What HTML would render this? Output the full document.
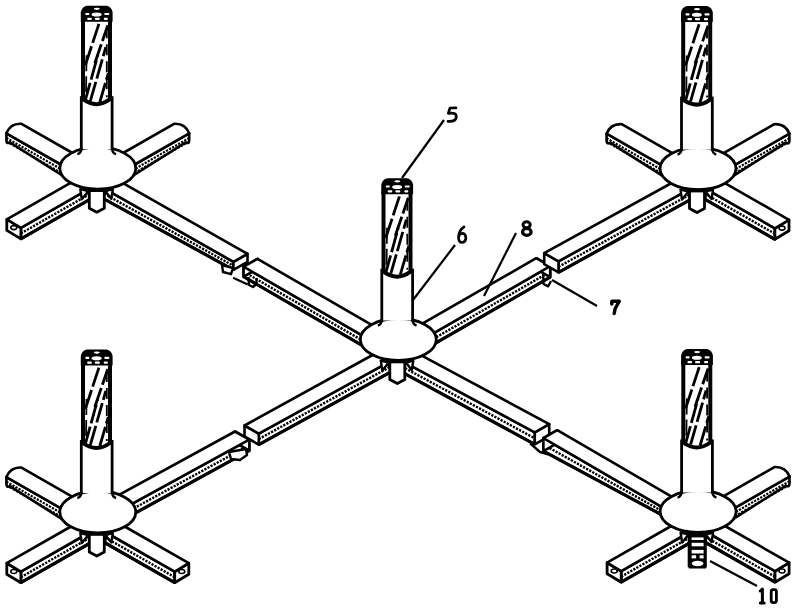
<!DOCTYPE html>
<html><head><meta charset="utf-8"><style>html,body{margin:0;padding:0;background:#fff;overflow:hidden;}svg{display:block;}</style></head>
<body><svg width="799" height="616" viewBox="0 0 799 616">
<polygon points="82.9,176.4 233.4,261.8 233.4,269.8 82.9,187.4" fill="#fff" stroke="#000" stroke-width="2.6" stroke-linejoin="round" />
<polyline points="82.9,181.9 233.4,265.8" fill="none" stroke="#000" stroke-width="2.4" stroke-linejoin="round" stroke-linecap="butt" stroke-dasharray="2.2,1.3"/>
<polyline points="82.9,187.4 233.4,269.8" fill="none" stroke="#000" stroke-width="3.2" stroke-linejoin="round" stroke-linecap="butt" />
<polygon points="247.5,253.8 233.4,261.8 233.4,269.8 247.5,261.8" fill="#fff" stroke="#000" stroke-width="2.6" stroke-linejoin="round" />
<polygon points="97.0,168.4 247.5,253.8 233.4,261.8 82.9,176.4" fill="#fff" stroke="#000" stroke-width="2.6" stroke-linejoin="round" />
<polygon points="243.6,266.7 384.1,348.1 384.1,358.1 243.6,276.7" fill="#fff" stroke="#000" stroke-width="2.6" stroke-linejoin="round" />
<polyline points="243.6,271.7 384.1,353.1" fill="none" stroke="#000" stroke-width="2.4" stroke-linejoin="round" stroke-linecap="butt" stroke-dasharray="2.2,1.3"/>
<polyline points="243.6,276.7 384.1,358.1" fill="none" stroke="#000" stroke-width="3.2" stroke-linejoin="round" stroke-linecap="butt" />
<polygon points="257.5,258.8 243.6,266.7 243.6,276.7 257.5,268.8" fill="#fff" stroke="#000" stroke-width="2.6" stroke-linejoin="round" />
<polygon points="257.5,258.8 398.0,340.2 384.1,348.1 243.6,266.7" fill="#fff" stroke="#000" stroke-width="2.6" stroke-linejoin="round" />
<polygon points="412.0,345.7 550.2,266.2 550.2,277.2 412.0,356.7" fill="#fff" stroke="#000" stroke-width="2.6" stroke-linejoin="round" />
<polyline points="412.0,351.2 550.2,271.7" fill="none" stroke="#000" stroke-width="2.4" stroke-linejoin="round" stroke-linecap="butt" stroke-dasharray="2.2,1.3"/>
<polyline points="412.0,356.7 550.2,277.2" fill="none" stroke="#000" stroke-width="3.2" stroke-linejoin="round" stroke-linecap="butt" />
<polygon points="536.2,258.2 550.2,266.2 550.2,277.2 536.2,269.2" fill="#fff" stroke="#000" stroke-width="2.6" stroke-linejoin="round" />
<polygon points="398.0,337.7 536.2,258.2 550.2,266.2 412.0,345.7" fill="#fff" stroke="#000" stroke-width="2.6" stroke-linejoin="round" />
<polygon points="558.5,261.3 712.3,176.7 712.3,187.7 558.5,272.3" fill="#fff" stroke="#000" stroke-width="2.6" stroke-linejoin="round" />
<polyline points="558.5,266.8 712.3,182.2" fill="none" stroke="#000" stroke-width="2.4" stroke-linejoin="round" stroke-linecap="butt" stroke-dasharray="2.2,1.3"/>
<polyline points="558.5,272.3 712.3,187.7" fill="none" stroke="#000" stroke-width="3.2" stroke-linejoin="round" stroke-linecap="butt" />
<polygon points="544.2,253.1 558.5,261.3 558.5,272.3 544.2,264.1" fill="#fff" stroke="#000" stroke-width="2.6" stroke-linejoin="round" />
<polygon points="544.2,253.1 698.0,168.5 712.3,176.7 558.5,261.3" fill="#fff" stroke="#000" stroke-width="2.6" stroke-linejoin="round" />
<polygon points="112.3,514.6 249.3,439.7 249.3,450.7 112.3,525.6" fill="#fff" stroke="#000" stroke-width="2.6" stroke-linejoin="round" />
<polyline points="112.3,520.1 249.3,445.2" fill="none" stroke="#000" stroke-width="2.4" stroke-linejoin="round" stroke-linecap="butt" stroke-dasharray="2.2,1.3"/>
<polyline points="112.3,525.6 249.3,450.7" fill="none" stroke="#000" stroke-width="3.2" stroke-linejoin="round" stroke-linecap="butt" />
<polygon points="235.0,431.5 249.3,439.7 249.3,450.7 235.0,442.5" fill="#fff" stroke="#000" stroke-width="2.6" stroke-linejoin="round" />
<polygon points="98.0,506.4 235.0,431.5 249.3,439.7 112.3,514.6" fill="#fff" stroke="#000" stroke-width="2.6" stroke-linejoin="round" />
<polygon points="258.8,433.6 412.3,349.1 412.3,360.1 258.8,444.6" fill="#fff" stroke="#000" stroke-width="2.6" stroke-linejoin="round" />
<polyline points="258.8,439.1 412.3,354.6" fill="none" stroke="#000" stroke-width="2.4" stroke-linejoin="round" stroke-linecap="butt" stroke-dasharray="2.2,1.3"/>
<polyline points="258.8,444.6 412.3,360.1" fill="none" stroke="#000" stroke-width="3.2" stroke-linejoin="round" stroke-linecap="butt" />
<polygon points="244.5,425.5 258.8,433.6 258.8,444.6 244.5,436.5" fill="#fff" stroke="#000" stroke-width="2.6" stroke-linejoin="round" />
<polygon points="244.5,425.5 398.0,341.0 412.3,349.1 258.8,433.6" fill="#fff" stroke="#000" stroke-width="2.6" stroke-linejoin="round" />
<polygon points="383.6,351.1 534.8,432.3 534.8,444.3 383.6,362.1" fill="#fff" stroke="#000" stroke-width="2.6" stroke-linejoin="round" />
<polyline points="383.6,356.6 534.8,438.3" fill="none" stroke="#000" stroke-width="2.4" stroke-linejoin="round" stroke-linecap="butt" stroke-dasharray="2.2,1.3"/>
<polyline points="383.6,362.1 534.8,444.3" fill="none" stroke="#000" stroke-width="3.2" stroke-linejoin="round" stroke-linecap="butt" />
<polygon points="549.2,424.1 534.8,432.3 534.8,444.3 549.2,436.1" fill="#fff" stroke="#000" stroke-width="2.6" stroke-linejoin="round" />
<polygon points="398.0,342.9 549.2,424.1 534.8,432.3 383.6,351.1" fill="#fff" stroke="#000" stroke-width="2.6" stroke-linejoin="round" />
<polygon points="543.4,438.1 684.1,519.9 684.1,526.9 543.4,451.1" fill="#fff" stroke="#000" stroke-width="2.6" stroke-linejoin="round" />
<polyline points="543.4,444.6 684.1,523.4" fill="none" stroke="#000" stroke-width="2.4" stroke-linejoin="round" stroke-linecap="butt" stroke-dasharray="2.2,1.3"/>
<polyline points="543.4,451.1 684.1,526.9" fill="none" stroke="#000" stroke-width="3.2" stroke-linejoin="round" stroke-linecap="butt" />
<polygon points="557.3,430.2 543.4,438.1 543.4,451.1 557.3,443.2" fill="#fff" stroke="#000" stroke-width="2.6" stroke-linejoin="round" />
<polygon points="557.3,430.2 698.0,512.0 684.1,519.9 543.4,438.1" fill="#fff" stroke="#000" stroke-width="2.6" stroke-linejoin="round" />
<polyline points="233.1,277.8 247.7,284.4" fill="none" stroke="#000" stroke-width="2.2" stroke-linejoin="round" stroke-linecap="butt" />
<polyline points="248.5,277.1 249.0,285.0 253.0,287.0 256.5,284.0 256.5,278.0" fill="none" stroke="#000" stroke-width="2.4" stroke-linejoin="round" stroke-linecap="butt" />
<polygon points="222.0,265.0 223.0,272.0 231.0,274.2 233.0,268.0" fill="#fff" stroke="#000" stroke-width="2.4" stroke-linejoin="round" />
<polyline points="543.2,274.3 543.5,284.0 548.2,286.3 551.0,281.0" fill="none" stroke="#000" stroke-width="2.4" stroke-linejoin="round" stroke-linecap="butt" />
<polygon points="229.0,452.0 231.0,459.0 240.0,460.0 247.0,455.0 246.0,449.0" fill="#fff" stroke="#000" stroke-width="2.4" stroke-linejoin="round" />
<polyline points="530.1,443.3 540.0,452.0 548.2,454.3" fill="none" stroke="#000" stroke-width="2.4" stroke-linejoin="round" stroke-linecap="butt" />
<path d="M6.4,133.3 L75.8,173.0 L75.8,184.0 L9.9,142.3 Q6.4,144.3 6.4,140.3 Z" fill="#fff" stroke="#000" stroke-width="2.6" stroke-linejoin="round"/>
<polyline points="6.4,137.9 75.8,177.6" fill="none" stroke="#000" stroke-width="2.2" stroke-linejoin="round" stroke-linecap="butt" stroke-dasharray="2.2,1.3"/>
<polyline points="6.4,141.5 75.8,181.2" fill="none" stroke="#000" stroke-width="2.0" stroke-linejoin="round" stroke-linecap="butt" stroke-dasharray="2.4,1.4"/>
<path d="M21.5,123.8 L90.9,163.5 L75.8,173.0 L6.4,133.3 Q10.5,123.1 21.5,123.8 Z" fill="#fff" stroke="#000" stroke-width="2.6" stroke-linejoin="round"/>
<path d="M189.2,133.3 L119.8,173.0 L119.8,184.0 L185.7,142.3 Q189.2,144.3 189.2,140.3 Z" fill="#fff" stroke="#000" stroke-width="2.6" stroke-linejoin="round"/>
<polyline points="189.2,137.9 119.8,177.6" fill="none" stroke="#000" stroke-width="2.2" stroke-linejoin="round" stroke-linecap="butt" stroke-dasharray="2.2,1.3"/>
<polyline points="189.2,141.5 119.8,181.2" fill="none" stroke="#000" stroke-width="2.0" stroke-linejoin="round" stroke-linecap="butt" stroke-dasharray="2.4,1.4"/>
<path d="M174.1,123.8 L104.7,163.5 L119.8,173.0 L189.2,133.3 Q185.1,123.1 174.1,123.8 Z" fill="#fff" stroke="#000" stroke-width="2.6" stroke-linejoin="round"/>
<polygon points="20.9,227.9 90.3,188.2 90.3,199.2 20.9,238.9" fill="#fff" stroke="#000" stroke-width="2.6" stroke-linejoin="round" />
<polyline points="20.9,233.4 90.3,193.7" fill="none" stroke="#000" stroke-width="2.4" stroke-linejoin="round" stroke-linecap="butt" stroke-dasharray="2.2,1.3"/>
<polyline points="20.9,238.9 90.3,199.2" fill="none" stroke="#000" stroke-width="3.2" stroke-linejoin="round" stroke-linecap="butt" />
<polygon points="6.8,219.4 20.9,227.9 20.9,238.9 6.8,230.4" fill="#fff" stroke="#000" stroke-width="2.8" stroke-linejoin="round" />
<ellipse cx="13.8" cy="227.6" rx="3" ry="2" fill="#fff" stroke="#000" stroke-width="1.6"/>
<polygon points="6.8,219.4 76.2,179.7 90.3,188.2 20.9,227.9" fill="#fff" stroke="#000" stroke-width="2.6" stroke-linejoin="round" />
<ellipse cx="97.8" cy="168.2" rx="38" ry="21" fill="#fff" stroke="#000" stroke-width="2.8"/>
<polygon points="80.3,189.2 81.8,199.2 88.3,191.2" fill="#fff" stroke="#000" stroke-width="2.4" stroke-linejoin="round"/>
<polygon points="112.8,189.2 111.3,198.7 105.3,191.2" fill="#fff" stroke="#000" stroke-width="2.4" stroke-linejoin="round"/>
<path d="M89.3,190.2 L89.3,208.2 L96.8,212.2 L104.3,208.2 L104.3,190.2" fill="#fff" stroke="#000" stroke-width="2.8" stroke-linejoin="round"/>
<line x1="85.8" y1="190.2" x2="107.8" y2="190.2" stroke="#000" stroke-width="3.6"/>
<rect x="81.3" y="96.19999999999999" width="30.799999999999997" height="53.0" fill="#fff"/>
<line x1="81.3" y1="96.19999999999999" x2="81.3" y2="150.2" stroke="#000" stroke-width="2.8"/>
<line x1="112.1" y1="96.19999999999999" x2="112.1" y2="150.2" stroke="#000" stroke-width="2.8"/>
<path d="M81.3,148.2 Q81.3,153.2 77.3,154.2" fill="none" stroke="#000" stroke-width="2.4"/>
<path d="M112.1,148.2 Q112.1,153.2 116.1,154.2" fill="none" stroke="#000" stroke-width="2.4"/>
<path d="M83.0,17.19999999999999 L83.0,99.19999999999999 Q96.5,109.19999999999999 110.0,99.19999999999999 L110.0,17.19999999999999" fill="#fff" stroke="#000" stroke-width="4"/>
<line x1="84.8" y1="102.19999999999999" x2="97.8" y2="55.19999999999999" stroke="#000" stroke-width="2.8" stroke-dasharray="20,3.5"/>
<line x1="90.3" y1="101.19999999999999" x2="105.8" y2="47.19999999999999" stroke="#000" stroke-width="2.8" stroke-dasharray="20,3.5"/>
<line x1="85.3" y1="65.19999999999999" x2="99.8" y2="21.19999999999999" stroke="#000" stroke-width="2.8" stroke-dasharray="20,3.5"/>
<line x1="94.8" y1="63.19999999999999" x2="107.8" y2="25.19999999999999" stroke="#000" stroke-width="2.8" stroke-dasharray="20,3.5"/>
<line x1="99.8" y1="102.19999999999999" x2="108.3" y2="73.19999999999999" stroke="#000" stroke-width="2.8" stroke-dasharray="20,3.5"/>
<line x1="86.5" y1="55.19999999999999" x2="86.0" y2="97.19999999999999" stroke="#000" stroke-width="1.8" stroke-dasharray="16,5"/>
<line x1="106.8" y1="27.19999999999999" x2="106.8" y2="97.19999999999999" stroke="#000" stroke-width="1.8" stroke-dasharray="11,6"/>
<path d="M80.8,21.69999999999999 L80.8,12.199999999999989 Q81.8,6.699999999999989 86.8,5.699999999999989 L106.6,5.699999999999989 Q111.6,6.699999999999989 112.6,12.199999999999989 L112.6,21.69999999999999 Z" fill="#000"/>
<ellipse cx="96.6" cy="14.399999999999988" rx="5" ry="2" fill="#fff"/>
<ellipse cx="96.8" cy="8.799999999999988" rx="3" ry="1.1" fill="#fff"/>
<rect x="85.3" y="12.89999999999999" width="4.0" height="2.2" rx="0.8" fill="#fff"/>
<rect x="104.3" y="12.89999999999999" width="5.0" height="2.2" rx="0.8" fill="#fff"/>
<rect x="87.2" y="17.69999999999999" width="4.6" height="2.2" rx="0.8" fill="#fff"/>
<rect x="94.8" y="17.69999999999999" width="5" height="2.2" rx="0.8" fill="#fff"/>
<rect x="103.8" y="17.69999999999999" width="4" height="2.2" rx="0.8" fill="#fff"/>
<path d="M606.6,133.7 L676.0,173.4 L676.0,184.4 L610.1,142.7 Q606.6,144.7 606.6,140.7 Z" fill="#fff" stroke="#000" stroke-width="2.6" stroke-linejoin="round"/>
<polyline points="606.6,138.3 676.0,178.0" fill="none" stroke="#000" stroke-width="2.2" stroke-linejoin="round" stroke-linecap="butt" stroke-dasharray="2.2,1.3"/>
<polyline points="606.6,141.9 676.0,181.6" fill="none" stroke="#000" stroke-width="2.0" stroke-linejoin="round" stroke-linecap="butt" stroke-dasharray="2.4,1.4"/>
<path d="M621.7,124.2 L691.1,163.9 L676.0,173.4 L606.6,133.7 Q610.7,123.5 621.7,124.2 Z" fill="#fff" stroke="#000" stroke-width="2.6" stroke-linejoin="round"/>
<path d="M789.4,133.7 L720.0,173.4 L720.0,184.4 L785.9,142.7 Q789.4,144.7 789.4,140.7 Z" fill="#fff" stroke="#000" stroke-width="2.6" stroke-linejoin="round"/>
<polyline points="789.4,138.3 720.0,178.0" fill="none" stroke="#000" stroke-width="2.2" stroke-linejoin="round" stroke-linecap="butt" stroke-dasharray="2.2,1.3"/>
<polyline points="789.4,141.9 720.0,181.6" fill="none" stroke="#000" stroke-width="2.0" stroke-linejoin="round" stroke-linecap="butt" stroke-dasharray="2.4,1.4"/>
<path d="M774.3,124.2 L704.9,163.9 L720.0,173.4 L789.4,133.7 Q785.3,123.5 774.3,124.2 Z" fill="#fff" stroke="#000" stroke-width="2.6" stroke-linejoin="round"/>
<polygon points="774.9,228.3 705.5,188.6 705.5,199.6 774.9,239.3" fill="#fff" stroke="#000" stroke-width="2.6" stroke-linejoin="round" />
<polyline points="774.9,233.8 705.5,194.1" fill="none" stroke="#000" stroke-width="2.4" stroke-linejoin="round" stroke-linecap="butt" stroke-dasharray="2.2,1.3"/>
<polyline points="774.9,239.3 705.5,199.6" fill="none" stroke="#000" stroke-width="3.2" stroke-linejoin="round" stroke-linecap="butt" />
<polygon points="789.0,219.8 774.9,228.3 774.9,239.3 789.0,230.8" fill="#fff" stroke="#000" stroke-width="2.8" stroke-linejoin="round" />
<ellipse cx="782.0" cy="228.1" rx="3" ry="2" fill="#fff" stroke="#000" stroke-width="1.6"/>
<polygon points="789.0,219.8 719.6,180.1 705.5,188.6 774.9,228.3" fill="#fff" stroke="#000" stroke-width="2.6" stroke-linejoin="round" />
<ellipse cx="698" cy="168.6" rx="38" ry="21" fill="#fff" stroke="#000" stroke-width="2.8"/>
<polygon points="680.5,189.6 682,199.6 688.5,191.6" fill="#fff" stroke="#000" stroke-width="2.4" stroke-linejoin="round"/>
<polygon points="713,189.6 711.5,199.1 705.5,191.6" fill="#fff" stroke="#000" stroke-width="2.4" stroke-linejoin="round"/>
<path d="M689.5,190.6 L689.5,208.6 L697,212.6 L704.5,208.6 L704.5,190.6" fill="#fff" stroke="#000" stroke-width="2.8" stroke-linejoin="round"/>
<line x1="686" y1="190.6" x2="708" y2="190.6" stroke="#000" stroke-width="3.6"/>
<rect x="681.5" y="96.6" width="30.799999999999955" height="53.0" fill="#fff"/>
<line x1="681.5" y1="96.6" x2="681.5" y2="150.6" stroke="#000" stroke-width="2.8"/>
<line x1="712.3" y1="96.6" x2="712.3" y2="150.6" stroke="#000" stroke-width="2.8"/>
<path d="M681.5,148.6 Q681.5,153.6 677.5,154.6" fill="none" stroke="#000" stroke-width="2.4"/>
<path d="M712.3,148.6 Q712.3,153.6 716.3,154.6" fill="none" stroke="#000" stroke-width="2.4"/>
<path d="M683.2,17.599999999999994 L683.2,99.6 Q696.7,109.6 710.2,99.6 L710.2,17.599999999999994" fill="#fff" stroke="#000" stroke-width="4"/>
<line x1="685" y1="102.6" x2="698" y2="55.599999999999994" stroke="#000" stroke-width="2.8" stroke-dasharray="20,3.5"/>
<line x1="690.5" y1="101.6" x2="706" y2="47.599999999999994" stroke="#000" stroke-width="2.8" stroke-dasharray="20,3.5"/>
<line x1="685.5" y1="65.6" x2="700" y2="21.599999999999994" stroke="#000" stroke-width="2.8" stroke-dasharray="20,3.5"/>
<line x1="695" y1="63.599999999999994" x2="708" y2="25.599999999999994" stroke="#000" stroke-width="2.8" stroke-dasharray="20,3.5"/>
<line x1="700" y1="102.6" x2="708.5" y2="73.6" stroke="#000" stroke-width="2.8" stroke-dasharray="20,3.5"/>
<line x1="686.7" y1="55.599999999999994" x2="686.2" y2="97.6" stroke="#000" stroke-width="1.8" stroke-dasharray="16,5"/>
<line x1="707" y1="27.599999999999994" x2="707" y2="97.6" stroke="#000" stroke-width="1.8" stroke-dasharray="11,6"/>
<path d="M681,22.099999999999994 L681,12.599999999999994 Q682,7.099999999999994 687,6.099999999999994 L706.8,6.099999999999994 Q711.8,7.099999999999994 712.8,12.599999999999994 L712.8,22.099999999999994 Z" fill="#000"/>
<ellipse cx="696.8" cy="14.799999999999994" rx="5" ry="2" fill="#fff"/>
<ellipse cx="697" cy="9.199999999999994" rx="3" ry="1.1" fill="#fff"/>
<rect x="685.5" y="13.299999999999995" width="4.0" height="2.2" rx="0.8" fill="#fff"/>
<rect x="704.5" y="13.299999999999995" width="5.0" height="2.2" rx="0.8" fill="#fff"/>
<rect x="687.4" y="18.099999999999994" width="4.6" height="2.2" rx="0.8" fill="#fff"/>
<rect x="695" y="18.099999999999994" width="5" height="2.2" rx="0.8" fill="#fff"/>
<rect x="704" y="18.099999999999994" width="4" height="2.2" rx="0.8" fill="#fff"/>
<ellipse cx="398.3" cy="339.5" rx="38" ry="21" fill="#fff" stroke="#000" stroke-width="2.8"/>
<polygon points="380.8,360.5 382.3,370.5 388.8,362.5" fill="#fff" stroke="#000" stroke-width="2.4" stroke-linejoin="round"/>
<polygon points="413.3,360.5 411.8,370.0 405.8,362.5" fill="#fff" stroke="#000" stroke-width="2.4" stroke-linejoin="round"/>
<path d="M389.8,361.5 L389.8,379.5 L397.3,383.5 L404.8,379.5 L404.8,361.5" fill="#fff" stroke="#000" stroke-width="2.8" stroke-linejoin="round"/>
<line x1="386.3" y1="361.5" x2="408.3" y2="361.5" stroke="#000" stroke-width="3.6"/>
<rect x="381.8" y="268.7" width="30.80000000000001" height="51.80000000000001" fill="#fff"/>
<line x1="381.8" y1="268.7" x2="381.8" y2="321.5" stroke="#000" stroke-width="2.8"/>
<line x1="412.6" y1="268.7" x2="412.6" y2="321.5" stroke="#000" stroke-width="2.8"/>
<path d="M381.8,319.5 Q381.8,324.5 377.8,325.5" fill="none" stroke="#000" stroke-width="2.4"/>
<path d="M412.6,319.5 Q412.6,324.5 416.6,325.5" fill="none" stroke="#000" stroke-width="2.4"/>
<path d="M383.5,189.7 L383.5,271.7 Q397.0,281.7 410.5,271.7 L410.5,189.7" fill="#fff" stroke="#000" stroke-width="4"/>
<line x1="385.3" y1="274.7" x2="398.3" y2="227.7" stroke="#000" stroke-width="2.8" stroke-dasharray="20,3.5"/>
<line x1="390.8" y1="273.7" x2="406.3" y2="219.7" stroke="#000" stroke-width="2.8" stroke-dasharray="20,3.5"/>
<line x1="385.8" y1="237.7" x2="400.3" y2="193.7" stroke="#000" stroke-width="2.8" stroke-dasharray="20,3.5"/>
<line x1="395.3" y1="235.7" x2="408.3" y2="197.7" stroke="#000" stroke-width="2.8" stroke-dasharray="20,3.5"/>
<line x1="400.3" y1="274.7" x2="408.8" y2="245.7" stroke="#000" stroke-width="2.8" stroke-dasharray="20,3.5"/>
<line x1="387.0" y1="227.7" x2="386.5" y2="269.7" stroke="#000" stroke-width="1.8" stroke-dasharray="16,5"/>
<line x1="407.3" y1="199.7" x2="407.3" y2="269.7" stroke="#000" stroke-width="1.8" stroke-dasharray="11,6"/>
<path d="M381.3,194.2 L381.3,184.7 Q382.3,179.2 387.3,178.2 L407.1,178.2 Q412.1,179.2 413.1,184.7 L413.1,194.2 Z" fill="#000"/>
<ellipse cx="397.1" cy="186.89999999999998" rx="5" ry="2" fill="#fff"/>
<ellipse cx="397.3" cy="181.29999999999998" rx="3" ry="1.1" fill="#fff"/>
<rect x="385.8" y="185.4" width="4.0" height="2.2" rx="0.8" fill="#fff"/>
<rect x="404.8" y="185.4" width="5.0" height="2.2" rx="0.8" fill="#fff"/>
<rect x="387.7" y="190.2" width="4.6" height="2.2" rx="0.8" fill="#fff"/>
<rect x="395.3" y="190.2" width="5" height="2.2" rx="0.8" fill="#fff"/>
<rect x="404.3" y="190.2" width="4" height="2.2" rx="0.8" fill="#fff"/>
<path d="M6.4,477.1 L75.8,516.8 L75.8,527.8 L9.9,486.1 Q6.4,488.1 6.4,484.1 Z" fill="#fff" stroke="#000" stroke-width="2.6" stroke-linejoin="round"/>
<polyline points="6.4,481.7 75.8,521.4" fill="none" stroke="#000" stroke-width="2.2" stroke-linejoin="round" stroke-linecap="butt" stroke-dasharray="2.2,1.3"/>
<polyline points="6.4,485.4 75.8,525.0" fill="none" stroke="#000" stroke-width="2.0" stroke-linejoin="round" stroke-linecap="butt" stroke-dasharray="2.4,1.4"/>
<path d="M21.5,467.6 L90.9,507.3 L75.8,516.8 L6.4,477.1 Q10.5,466.9 21.5,467.6 Z" fill="#fff" stroke="#000" stroke-width="2.6" stroke-linejoin="round"/>
<polygon points="20.9,571.7 90.3,532.0 90.3,543.0 20.9,582.7" fill="#fff" stroke="#000" stroke-width="2.6" stroke-linejoin="round" />
<polyline points="20.9,577.2 90.3,537.5" fill="none" stroke="#000" stroke-width="2.4" stroke-linejoin="round" stroke-linecap="butt" stroke-dasharray="2.2,1.3"/>
<polyline points="20.9,582.7 90.3,543.0" fill="none" stroke="#000" stroke-width="3.2" stroke-linejoin="round" stroke-linecap="butt" />
<polygon points="6.8,563.2 20.9,571.7 20.9,582.7 6.8,574.2" fill="#fff" stroke="#000" stroke-width="2.8" stroke-linejoin="round" />
<ellipse cx="13.8" cy="571.5" rx="3" ry="2" fill="#fff" stroke="#000" stroke-width="1.6"/>
<polygon points="6.8,563.2 76.2,523.5 90.3,532.0 20.9,571.7" fill="#fff" stroke="#000" stroke-width="2.6" stroke-linejoin="round" />
<polygon points="174.7,571.7 105.3,532.0 105.3,543.0 174.7,582.7" fill="#fff" stroke="#000" stroke-width="2.6" stroke-linejoin="round" />
<polyline points="174.7,577.2 105.3,537.5" fill="none" stroke="#000" stroke-width="2.4" stroke-linejoin="round" stroke-linecap="butt" stroke-dasharray="2.2,1.3"/>
<polyline points="174.7,582.7 105.3,543.0" fill="none" stroke="#000" stroke-width="3.2" stroke-linejoin="round" stroke-linecap="butt" />
<polygon points="188.8,563.2 174.7,571.7 174.7,582.7 188.8,574.2" fill="#fff" stroke="#000" stroke-width="2.8" stroke-linejoin="round" />
<ellipse cx="181.8" cy="571.5" rx="3" ry="2" fill="#fff" stroke="#000" stroke-width="1.6"/>
<polygon points="188.8,563.2 119.4,523.5 105.3,532.0 174.7,571.7" fill="#fff" stroke="#000" stroke-width="2.6" stroke-linejoin="round" />
<ellipse cx="97.8" cy="512" rx="38" ry="21" fill="#fff" stroke="#000" stroke-width="2.8"/>
<polygon points="80.3,533 81.8,543 88.3,535" fill="#fff" stroke="#000" stroke-width="2.4" stroke-linejoin="round"/>
<polygon points="112.8,533 111.3,542.5 105.3,535" fill="#fff" stroke="#000" stroke-width="2.4" stroke-linejoin="round"/>
<path d="M89.3,534 L89.3,552 L96.8,556 L104.3,552 L104.3,534" fill="#fff" stroke="#000" stroke-width="2.8" stroke-linejoin="round"/>
<line x1="85.8" y1="534" x2="107.8" y2="534" stroke="#000" stroke-width="3.6"/>
<rect x="81.3" y="440" width="30.799999999999997" height="53" fill="#fff"/>
<line x1="81.3" y1="440" x2="81.3" y2="494" stroke="#000" stroke-width="2.8"/>
<line x1="112.1" y1="440" x2="112.1" y2="494" stroke="#000" stroke-width="2.8"/>
<path d="M81.3,492 Q81.3,497 77.3,498" fill="none" stroke="#000" stroke-width="2.4"/>
<path d="M112.1,492 Q112.1,497 116.1,498" fill="none" stroke="#000" stroke-width="2.4"/>
<path d="M83.0,361 L83.0,443 Q96.5,453 110.0,443 L110.0,361" fill="#fff" stroke="#000" stroke-width="4"/>
<line x1="84.8" y1="446" x2="97.8" y2="399" stroke="#000" stroke-width="2.8" stroke-dasharray="20,3.5"/>
<line x1="90.3" y1="445" x2="105.8" y2="391" stroke="#000" stroke-width="2.8" stroke-dasharray="20,3.5"/>
<line x1="85.3" y1="409" x2="99.8" y2="365" stroke="#000" stroke-width="2.8" stroke-dasharray="20,3.5"/>
<line x1="94.8" y1="407" x2="107.8" y2="369" stroke="#000" stroke-width="2.8" stroke-dasharray="20,3.5"/>
<line x1="99.8" y1="446" x2="108.3" y2="417" stroke="#000" stroke-width="2.8" stroke-dasharray="20,3.5"/>
<line x1="86.5" y1="399" x2="86.0" y2="441" stroke="#000" stroke-width="1.8" stroke-dasharray="16,5"/>
<line x1="106.8" y1="371" x2="106.8" y2="441" stroke="#000" stroke-width="1.8" stroke-dasharray="11,6"/>
<path d="M80.8,365.5 L80.8,356 Q81.8,350.5 86.8,349.5 L106.6,349.5 Q111.6,350.5 112.6,356 L112.6,365.5 Z" fill="#000"/>
<ellipse cx="96.6" cy="358.2" rx="5" ry="2" fill="#fff"/>
<ellipse cx="96.8" cy="352.6" rx="3" ry="1.1" fill="#fff"/>
<rect x="85.3" y="356.7" width="4.0" height="2.2" rx="0.8" fill="#fff"/>
<rect x="104.3" y="356.7" width="5.0" height="2.2" rx="0.8" fill="#fff"/>
<rect x="87.2" y="361.5" width="4.6" height="2.2" rx="0.8" fill="#fff"/>
<rect x="94.8" y="361.5" width="5" height="2.2" rx="0.8" fill="#fff"/>
<rect x="103.8" y="361.5" width="4" height="2.2" rx="0.8" fill="#fff"/>
<path d="M789.5,476.6 L720.1,516.3 L720.1,527.3 L786.0,485.6 Q789.5,487.6 789.5,483.6 Z" fill="#fff" stroke="#000" stroke-width="2.6" stroke-linejoin="round"/>
<polyline points="789.5,481.2 720.1,520.9" fill="none" stroke="#000" stroke-width="2.2" stroke-linejoin="round" stroke-linecap="butt" stroke-dasharray="2.2,1.3"/>
<polyline points="789.5,484.9 720.1,524.5" fill="none" stroke="#000" stroke-width="2.0" stroke-linejoin="round" stroke-linecap="butt" stroke-dasharray="2.4,1.4"/>
<path d="M774.4,467.1 L705.0,506.8 L720.1,516.3 L789.5,476.6 Q785.4,466.4 774.4,467.1 Z" fill="#fff" stroke="#000" stroke-width="2.6" stroke-linejoin="round"/>
<polygon points="621.2,571.2 690.6,531.5 690.6,542.5 621.2,582.2" fill="#fff" stroke="#000" stroke-width="2.6" stroke-linejoin="round" />
<polyline points="621.2,576.7 690.6,537.0" fill="none" stroke="#000" stroke-width="2.4" stroke-linejoin="round" stroke-linecap="butt" stroke-dasharray="2.2,1.3"/>
<polyline points="621.2,582.2 690.6,542.5" fill="none" stroke="#000" stroke-width="3.2" stroke-linejoin="round" stroke-linecap="butt" />
<polygon points="607.1,562.7 621.2,571.2 621.2,582.2 607.1,573.7" fill="#fff" stroke="#000" stroke-width="2.8" stroke-linejoin="round" />
<ellipse cx="614.2" cy="571.0" rx="3" ry="2" fill="#fff" stroke="#000" stroke-width="1.6"/>
<polygon points="607.1,562.7 676.5,523.0 690.6,531.5 621.2,571.2" fill="#fff" stroke="#000" stroke-width="2.6" stroke-linejoin="round" />
<polygon points="775.0,571.2 705.6,531.5 705.6,542.5 775.0,582.2" fill="#fff" stroke="#000" stroke-width="2.6" stroke-linejoin="round" />
<polyline points="775.0,576.7 705.6,537.0" fill="none" stroke="#000" stroke-width="2.4" stroke-linejoin="round" stroke-linecap="butt" stroke-dasharray="2.2,1.3"/>
<polyline points="775.0,582.2 705.6,542.5" fill="none" stroke="#000" stroke-width="3.2" stroke-linejoin="round" stroke-linecap="butt" />
<polygon points="789.1,562.7 775.0,571.2 775.0,582.2 789.1,573.7" fill="#fff" stroke="#000" stroke-width="2.8" stroke-linejoin="round" />
<ellipse cx="782.0" cy="571.0" rx="3" ry="2" fill="#fff" stroke="#000" stroke-width="1.6"/>
<polygon points="789.1,562.7 719.7,523.0 705.6,531.5 775.0,571.2" fill="#fff" stroke="#000" stroke-width="2.6" stroke-linejoin="round" />
<ellipse cx="698.1" cy="511.5" rx="38" ry="21" fill="#fff" stroke="#000" stroke-width="2.8"/>
<polygon points="680.6,532.5 682.1,542.5 688.6,534.5" fill="#fff" stroke="#000" stroke-width="2.4" stroke-linejoin="round"/>
<polygon points="713.1,532.5 711.6,542.0 705.6,534.5" fill="#fff" stroke="#000" stroke-width="2.4" stroke-linejoin="round"/>
<path d="M689.1,533.5 L689.1,565.5 L705.1,565.5 L705.1,533.5" fill="#fff" stroke="#000" stroke-width="2.8"/>
<line x1="686.1" y1="533.5" x2="708.1" y2="533.5" stroke="#000" stroke-width="3.6"/>
<rect x="688.3000000000001" y="531.5" width="18.299999999999955" height="37" rx="1.5" fill="#000"/>
<rect x="691.6" y="537.4" width="12.0" height="2.6000000000000014" fill="#fff"/>
<rect x="691.6" y="542.8" width="12.0" height="3.4999999999999964" fill="#fff"/>
<rect x="691.6" y="549.9" width="12.0" height="3.6000000000000014" fill="#fff"/>
<rect x="691.6" y="555.3" width="4.5" height="3.1000000000000014" fill="#fff"/>
<rect x="699.6" y="555.3" width="4.0" height="3.1000000000000014" fill="#fff"/>
<ellipse cx="697.6" cy="563.5" rx="5.8" ry="2.8" fill="#fff"/>
<rect x="681.6" y="439.5" width="30.799999999999955" height="53.0" fill="#fff"/>
<line x1="681.6" y1="439.5" x2="681.6" y2="493.5" stroke="#000" stroke-width="2.8"/>
<line x1="712.4" y1="439.5" x2="712.4" y2="493.5" stroke="#000" stroke-width="2.8"/>
<path d="M681.6,491.5 Q681.6,496.5 677.6,497.5" fill="none" stroke="#000" stroke-width="2.4"/>
<path d="M712.4,491.5 Q712.4,496.5 716.4,497.5" fill="none" stroke="#000" stroke-width="2.4"/>
<path d="M683.3000000000001,360.5 L683.3000000000001,442.5 Q696.8000000000001,452.5 710.3000000000001,442.5 L710.3000000000001,360.5" fill="#fff" stroke="#000" stroke-width="4"/>
<line x1="685.1" y1="445.5" x2="698.1" y2="398.5" stroke="#000" stroke-width="2.8" stroke-dasharray="20,3.5"/>
<line x1="690.6" y1="444.5" x2="706.1" y2="390.5" stroke="#000" stroke-width="2.8" stroke-dasharray="20,3.5"/>
<line x1="685.6" y1="408.5" x2="700.1" y2="364.5" stroke="#000" stroke-width="2.8" stroke-dasharray="20,3.5"/>
<line x1="695.1" y1="406.5" x2="708.1" y2="368.5" stroke="#000" stroke-width="2.8" stroke-dasharray="20,3.5"/>
<line x1="700.1" y1="445.5" x2="708.6" y2="416.5" stroke="#000" stroke-width="2.8" stroke-dasharray="20,3.5"/>
<line x1="686.8000000000001" y1="398.5" x2="686.3000000000001" y2="440.5" stroke="#000" stroke-width="1.8" stroke-dasharray="16,5"/>
<line x1="707.1" y1="370.5" x2="707.1" y2="440.5" stroke="#000" stroke-width="1.8" stroke-dasharray="11,6"/>
<path d="M681.1,365.0 L681.1,355.5 Q682.1,350.0 687.1,349.0 L706.9,349.0 Q711.9,350.0 712.9,355.5 L712.9,365.0 Z" fill="#000"/>
<ellipse cx="696.9" cy="357.7" rx="5" ry="2" fill="#fff"/>
<ellipse cx="697.1" cy="352.1" rx="3" ry="1.1" fill="#fff"/>
<rect x="685.6" y="356.2" width="4.0" height="2.2" rx="0.8" fill="#fff"/>
<rect x="704.6" y="356.2" width="5.0" height="2.2" rx="0.8" fill="#fff"/>
<rect x="687.5" y="361.0" width="4.6" height="2.2" rx="0.8" fill="#fff"/>
<rect x="695.1" y="361.0" width="5" height="2.2" rx="0.8" fill="#fff"/>
<rect x="704.1" y="361.0" width="4" height="2.2" rx="0.8" fill="#fff"/>
<line x1="444" y1="120" x2="402" y2="178" stroke="#000" stroke-width="2.2"/>
<line x1="455" y1="245" x2="413" y2="300" stroke="#000" stroke-width="2.2"/>
<line x1="516" y1="233" x2="484" y2="296" stroke="#000" stroke-width="2.2"/>
<line x1="597" y1="306" x2="552" y2="280" stroke="#000" stroke-width="2.2"/>
<line x1="710" y1="561" x2="757" y2="586" stroke="#000" stroke-width="2.2"/>
<path d="M456,107.8 L450,108 L448.3,113.3 Q456.5,112 456.3,117 Q455.5,122 448,121.3" fill="none" stroke="#000" stroke-width="2.7" stroke-linecap="round" stroke-linejoin="round"/>
<path d="M464,226.8 Q459,230 458.5,237 Q458.5,242.5 462,242.5 Q466,242 465.8,237.5 Q465.5,233 461.5,233.5 Q459,234.5 458.5,237" fill="none" stroke="#000" stroke-width="2.7" stroke-linecap="round" stroke-linejoin="round"/>
<ellipse cx="526.6" cy="224.8" rx="3.6" ry="3" fill="none" stroke="#000" stroke-width="3"/>
<ellipse cx="526.8" cy="231.9" rx="4.3" ry="3.4" fill="none" stroke="#000" stroke-width="3.2"/>
<path d="M611.8,304 L611.8,301.2 L619.3,301.2 L615.2,308.5 L614.2,313.5" fill="none" stroke="#000" stroke-width="3.4" stroke-linecap="round" stroke-linejoin="round"/>
<path d="M760.3,591 L762.4,589 L762.4,603 M760.3,603 L764.2,603" fill="none" stroke="#000" stroke-width="3" stroke-linecap="round" stroke-linejoin="round"/>
<rect x="771.2" y="589.6" width="5.2" height="13" rx="2" fill="none" stroke="#000" stroke-width="2.8"/>
</svg></body></html>
